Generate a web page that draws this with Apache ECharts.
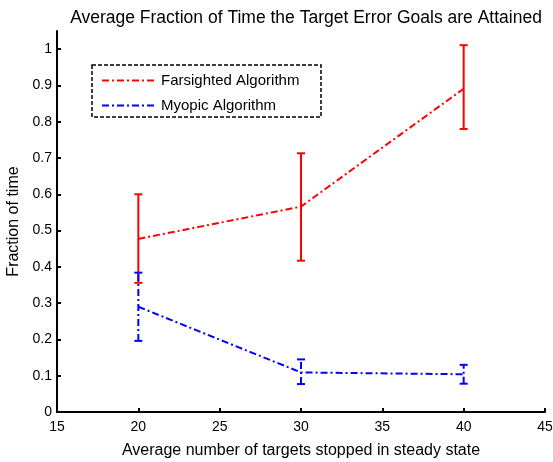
<!DOCTYPE html>
<html><head><meta charset="utf-8">
<script src="https://cdn.jsdelivr.net/npm/echarts@6/dist/echarts.min.js"></script>
<style>html,body{margin:0;padding:0;background:#fff}#c{width:553px;height:462px}</style>
</head><body><div id="c"></div>
<script>
const xValues = [20, 30, 40];
const farMean = [0.477, 0.566, 0.891];
const farLow  = [0.356, 0.417, 0.780];
const farHigh = [0.600, 0.713, 1.011];
const myoMean = [0.290, 0.109, 0.104];
const myoLow  = [0.196, 0.077, 0.078];
const myoHigh = [0.384, 0.145, 0.130];
const xTicks = [15, 20, 25, 30, 35, 40, 45];
const yTicks = [0, 0.1, 0.2, 0.3, 0.4, 0.5, 0.6, 0.7, 0.8, 0.9, 1];

const FONT = 'Liberation Sans, Arial, sans-serif';
const dashDot = [7, 3, 2, 3];

function errSeries(name, color, low, high, dashed) {
  return {
    type: 'custom', name: name + ' err', silent: true, z: 3,
    data: xValues.map((x, i) => [x, low[i], high[i]]),
    renderItem: function (params, api) {
      const lo = api.coord([api.value(0), api.value(1)]);
      const hi = api.coord([api.value(0), api.value(2)]);
      const w = 4;
      const st = { stroke: color, lineWidth: 2, fill: null };
      const vst = Object.assign({}, st, dashed ? { lineDash: dashDot } : {});
      return { type: 'group', children: [
        { type: 'line', shape: { x1: lo[0], y1: lo[1], x2: hi[0], y2: hi[1] }, style: vst },
        { type: 'line', shape: { x1: lo[0] - w, y1: lo[1], x2: lo[0] + w, y2: lo[1] }, style: st },
        { type: 'line', shape: { x1: hi[0] - w, y1: hi[1], x2: hi[0] + w, y2: hi[1] }, style: st }
      ]};
    }
  };
}

const chart = echarts.init(document.getElementById('c'), null, { renderer: 'canvas' });
chart.setOption({
  animation: false,
  backgroundColor: '#fff',
  title: {
    text: 'Average Fraction of Time the Target Error Goals are Attained',
    left: 301, top: 4, textAlign: 'center',
    textStyle: { fontFamily: FONT, fontSize: 17.5, fontWeight: 'normal', color: '#000' }
  },
  grid: { left: 57, right: 8, top: 31, bottom: 50, containLabel: false, outerBoundsMode: 'none' },
  legend: {
    orient: 'vertical', left: 101, top: 73, padding: 0, itemWidth: 54, itemHeight: 10, itemGap: 10,
    data: ['Farsighted Algorithm', 'Myopic Algorithm'],
    itemStyle: { opacity: 0 },
    textStyle: { fontFamily: FONT, fontSize: 15, color: '#000' },
    selectedMode: false
  },
  graphic: [{
    type: 'rect', shape: { x: 92, y: 65, width: 229, height: 52 },
    style: { fill: null, stroke: '#000', lineWidth: 1.5, lineDash: [4, 2] }, z: 10
  }],
  xAxis: {
    type: 'value', min: 15, max: 45, interval: 5,
    name: 'Average number of targets stopped in steady state',
    nameLocation: 'middle', nameGap: 31,
    nameTextStyle: { fontFamily: FONT, fontSize: 16, color: '#000' },
    axisLine: { onZero: false, lineStyle: { color: '#000', width: 2 } },
    axisTick: { inside: true, length: 4, lineStyle: { color: '#000', width: 2 }, customValues: xTicks },
    axisLabel: { fontFamily: FONT, fontSize: 14, color: '#000', margin: 8, customValues: xTicks },
    splitLine: { show: false }
  },
  yAxis: {
    type: 'value', min: 0, max: 1.05,
    name: 'Fraction of time', nameLocation: 'middle', nameGap: 31,
    nameTextStyle: { fontFamily: FONT, fontSize: 16, color: '#000' },
    axisLine: { show: true, lineStyle: { color: '#000', width: 2 } },
    axisTick: { show: true, inside: true, length: 4, lineStyle: { color: '#000', width: 2 }, customValues: yTicks },
    axisLabel: { fontFamily: FONT, fontSize: 14, color: '#000', margin: 5, customValues: yTicks,
      formatter: v => String(Math.round(v * 10) / 10) },
    splitLine: { show: false }
  },
  series: [
    { type: 'line', name: 'Farsighted Algorithm', data: xValues.map((x, i) => [x, farMean[i]]),
      symbol: 'none', color: '#ff0000', z: 4,
      lineStyle: { color: '#ff0000', width: 2, type: dashDot } },
    { type: 'line', name: 'Myopic Algorithm', data: xValues.map((x, i) => [x, myoMean[i]]),
      symbol: 'none', color: '#0000ff', z: 4,
      lineStyle: { color: '#0000ff', width: 2, type: dashDot } },
    errSeries('Farsighted', '#ff0000', farLow, farHigh, false),
    errSeries('Myopic', '#0000ff', myoLow, myoHigh, true)
  ]
});
</script></body></html>
